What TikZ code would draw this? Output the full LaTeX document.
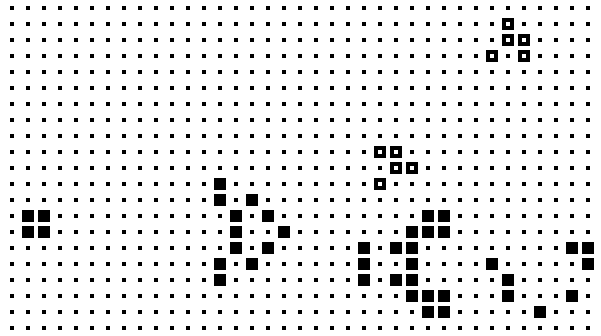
\documentclass[tikz,border=0pt]{standalone}
\usetikzlibrary{positioning}
\begin{document}
\begin{tikzpicture}[x=0.4cm, y=-0.4cm,
    kropka/.style={rectangle, fill, inner sep=0pt, minimum size=0.1cm},
    zywa/.style={rectangle, fill, inner sep=0pt, minimum size=0.3cm},
    pusta/.style={rectangle, draw, fill=white, line width=0.1cm, inner sep=0pt, minimum size=0.2cm}]
    \useasboundingbox (0,0) rectangle (37.5625,20.9375);
    % Siatka

    \foreach \i in {0,...,36}
        \foreach \j in {0,...,20}
            \node[kropka] (k-\i-\j) at (0.75+\i, 0.5+\j) {};

    % Komórki puste (szybowce)

    \foreach \i/\j in {31/1, 31/2, 32/2, 30/3, 32/3,
                       23/9, 24/9, 24/10, 25/10, 23/11}
        \node[pusta] (p-\i-\j) at (0.75+\i, 0.5+\j) {};

    % Komórki żywe

    \foreach \i/\j in {1/13, 2/13, 1/14, 2/14,
                       13/11, 13/12, 15/12, 14/13, 16/13, 14/14, 17/14,
                       14/15, 16/15, 13/16, 15/16, 13/17,
                       26/13, 27/13, 25/14, 26/14, 27/14, 22/15, 24/15, 25/15,
                       22/16, 25/16, 22/17, 24/17, 25/17, 25/18, 26/18, 27/18,
                       26/19, 27/19,
                       35/15, 36/15, 30/16, 36/16, 31/17, 31/18, 35/18, 33/19}
        \node[zywa] (z-\i-\j) at (0.75+\i, 0.5+\j) {};

\end{tikzpicture}
\end{document}
